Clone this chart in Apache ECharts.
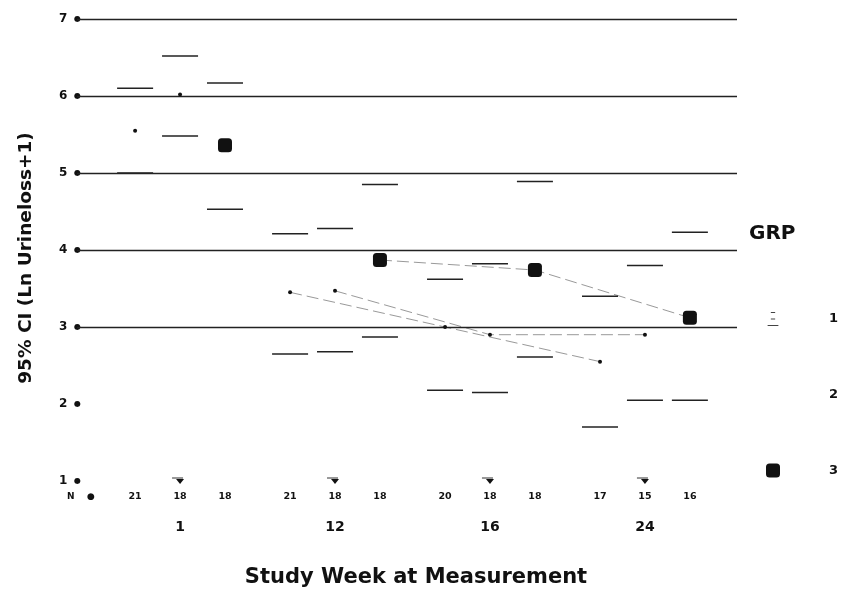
<!DOCTYPE html>
<html><head><meta charset="utf-8">
<script src="https://cdn.jsdelivr.net/npm/echarts@6/dist/echarts.min.js"></script>
<style>html,body{margin:0;padding:0;background:#fff}#c{width:842px;height:589px}</style>
</head><body><div id="c"></div>
<script>
// ---- data ----
const weeks = ['1', '12', '16', '24'];
const groups = ['1', '2', '3'];
const nCounts = [[21, 18, 18], [21, 18, 18], [20, 18, 18], [17, 15, 16]];
const meanG1  = [5.55, 3.45, 3.00, 2.55];
const upperG1 = [6.10, 4.21, 3.62, 3.40];
const lowerG1 = [5.00, 2.65, 2.18, 1.70];
const meanG2  = [6.02, 3.47, 2.90, 2.90];
const upperG2 = [6.52, 4.28, 3.82, 3.80];
const lowerG2 = [5.48, 2.68, 2.15, 2.05];
const meanG3  = [5.36, 3.87, 3.74, 3.12];
const upperG3 = [6.17, 4.85, 4.89, 4.23];
const lowerG3 = [4.53, 2.87, 2.61, 2.05];
const yTicks = [1, 2, 3, 4, 5, 6, 7];
const gridValues = [3, 4, 5, 6, 7];

// ---- layout constants ----
const GROUP_OFFSET = 0.29;
const X_MIN = -0.665, X_MAX = 3.594;
const FONT = '"DejaVu Sans", "Liberation Sans", sans-serif';
const pos = (w, g) => w + (g - 1) * GROUP_OFFSET;

const means = [meanG1, meanG2, meanG3];
const uppers = [upperG1, upperG2, upperG3];
const lowers = [lowerG1, lowerG2, lowerG3];

const barData = [];
groups.forEach((g, gi) => weeks.forEach((w, wi) => {
  barData.push([pos(wi, gi), lowers[gi][wi], uppers[gi][wi]]);
}));

const chart = echarts.init(document.getElementById('c'), null, {renderer: 'canvas'});

// mean markers (legend entries)
const meanSeries = groups.map((g, gi) => ({
  name: g,
  type: 'scatter',
  data: weeks.map((w, wi) => [pos(wi, gi), means[gi][wi]]),
  symbol: gi === 2 ? 'roundRect' : 'circle',
  symbolSize: gi === 2 ? 14 : 4,
  itemStyle: {color: '#111', opacity: 1},
  z: 5,
  silent: true
}));
// faint connecting lines (only the later weeks are visible in the reference)
const linkSeries = groups.map((g, gi) => ({
  name: 'link' + g,
  type: 'line',
  data: weeks.map((w, wi) => wi === 0 ? null : [pos(wi, gi), means[gi][wi]]).filter(d => d),
  showSymbol: false,
  lineStyle: {color: '#555', width: 1, type: [12, 5], opacity: 0.6},
  z: 3,
  silent: true
}));

chart.setOption({
  backgroundColor: '#fff',
  animation: false,
  title: [{
    text: 'GRP', left: 744, top: 219,
    textStyle: {fontSize: 20, fontWeight: 'bold', fontFamily: FONT, color: '#111'}
  }],
  legend: {
    orient: 'vertical', left: 761, top: 307,
    itemWidth: 14, itemHeight: 14, itemGap: 62,
    textStyle: {fontSize: 13, fontWeight: 'bold', fontFamily: FONT, color: '#111', padding: [0, 0, 0, 44]},
    data: [
      {name: '1', icon: 'path://M3,0h4v1h-4zM3,6h4v1h-4zM0,12h10v1h-10z', itemStyle: {color: '#444'}},
      {name: '2', icon: 'none'},
      {name: '3', icon: 'roundRect', itemStyle: {color: '#111'}}
    ],
    selectedMode: false
  },
  grid: {left: 77, right: 105, top: 19, bottom: 108, outerBoundsMode: 'none', containLabel: false},
  xAxis: {
    type: 'value', min: X_MIN, max: X_MAX,
    axisLine: {show: false}, axisTick: {show: false}, axisLabel: {show: false}, splitLine: {show: false},
    name: 'Study Week at Measurement', nameLocation: 'middle', nameGap: 86,
    nameTextStyle: {fontSize: 21, fontWeight: 'bold', fontFamily: FONT, color: '#111', padding: [0, 0, 0, 18]}
  },
  yAxis: {
    type: 'value', min: 1, max: 7, interval: 1,
    axisLine: {show: false}, axisTick: {show: false}, splitLine: {show: false},
    axisLabel: {
      margin: -4,
      formatter: v => '{v|' + v + '}  {d|●}',
      rich: {
        v: {fontSize: 12, fontWeight: 'bold', fontFamily: FONT, color: '#111'},
        d: {fontSize: 8, color: '#111', fontFamily: FONT}
      }
    },
    name: '95% CI (Ln Urineloss+1)', nameLocation: 'middle', nameGap: 41,
    nameTextStyle: {fontSize: 18.5, fontWeight: 'bold', fontFamily: FONT, color: '#111', padding: [0, 16, 0, 0]}
  },
  graphic: [{
    type: 'text', left: 67, top: 492,
    style: {text: 'N    ●', fontSize: 9, fontWeight: 'bold', fontFamily: FONT, fill: '#111'}
  }],
  series: [
    {
      name: 'grid', type: 'line', data: [], silent: true,
      markLine: {
        silent: true, symbol: 'none', label: {show: false},
        lineStyle: {color: '#222', width: 1.3, type: 'solid'},
        data: gridValues.map(v => ({yAxis: v}))
      }
    },
    {
      name: 'errorbars', type: 'custom', data: barData, silent: true, z: 4,
      encode: {x: 0, y: [1, 2]},
      renderItem: (params, api) => {
        const x = api.value(0);
        const a = api.coord([x, api.value(2)]);
        const b = api.coord([x, api.value(1)]);
        const st = {stroke: '#222', lineWidth: 1.5};
        return {type: 'group', children: [
          {type: 'line', shape: {x1: a[0] - 18, y1: a[1], x2: a[0] + 18, y2: a[1]}, style: st},
          {type: 'line', shape: {x1: b[0] - 18, y1: b[1], x2: b[0] + 18, y2: b[1]}, style: st}
        ]};
      }
    },
    {
      name: 'weekLabels', type: 'custom', clip: false, silent: true,
      data: weeks.map((w, i) => [i, 1]),
      encode: {x: 0, y: 1},
      renderItem: (params, api) => {
        const wi = api.value(0);
        const c = api.coord([wi, 1]);
        const children = [
          {type: 'polygon', shape: {points: [[c[0] - 4, c[1] - 2], [c[0] + 4, c[1] - 2], [c[0], c[1] + 3]]}, style: {fill: '#111'}},
          {type: 'line', shape: {x1: c[0] - 8, y1: c[1] - 3, x2: c[0] + 3, y2: c[1] - 3}, style: {stroke: '#333', lineWidth: 1}},
          {type: 'text', style: {text: weeks[wi], x: c[0], y: c[1] + 46, align: 'center', verticalAlign: 'middle',
            fontSize: 14, fontWeight: 'bold', fontFamily: FONT, fill: '#111'}}
        ];
        nCounts[wi].forEach((n, gi) => {
          const p = api.coord([pos(wi, gi), 1]);
          children.push({type: 'text', style: {text: String(n), x: p[0], y: p[1] + 16, align: 'center', verticalAlign: 'middle',
            fontSize: 9.5, fontWeight: 'bold', fontFamily: FONT, fill: '#111'}});
        });
        return {type: 'group', children};
      }
    }
  ].concat(linkSeries, meanSeries)
});
</script>
</body></html>
